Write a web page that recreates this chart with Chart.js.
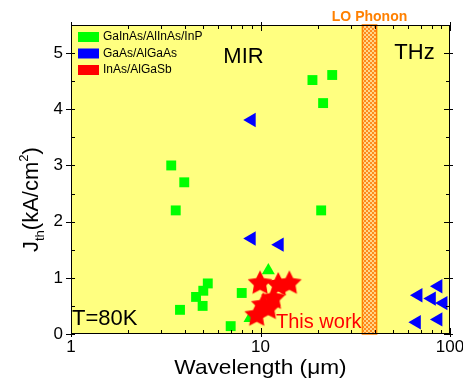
<!DOCTYPE html>
<html>
<head>
<meta charset="utf-8">
<script src="https://cdn.jsdelivr.net/npm/chart.js@4.4.1/dist/chart.umd.min.js"></script>
<style>
    html, body { margin: 0; padding: 0; background: #fff; }
    #wrap { width: 463px; height: 382px; }
</style>
</head>
<body>
<div id="wrap"><canvas id="myChart" width="463" height="382"></canvas></div>
<script>
// GaInAs/AlInAs/InP (squares)
var gainasSqX = [18.8, 23.9, 21.4, 3.38, 3.96, 3.57, 20.9, 5.27, 4.99, 4.57, 4.95, 3.76, 6.96, 7.96];
var gainasSqY = [4.52, 4.61, 4.11, 3.0, 2.7, 2.2, 2.2, 0.9, 0.77, 0.66, 0.5, 0.43, 0.14, 0.73];
// GaInAs/AlInAs/InP (triangles)
var gainasTriX = [11.0, 8.8];
var gainasTriY = [1.13, 0.28];
// GaAs/AlGaAs
var gaasX = [8.97, 8.97, 12.6, 68.0, 80.0, 86.7, 92.2, 66.7, 86.7];
var gaasY = [3.81, 1.70, 1.59, 0.69, 0.63, 0.85, 0.55, 0.21, 0.26];
// InAs/AlGaSb (this work)
var inasX = [9.94, 12.4, 14.2, 11.7, 10.35, 11.0, 9.55];
var inasY = [0.92, 0.89, 0.92, 0.65, 0.53, 0.47, 0.35];

var xTickLabels = [1, 10, 100];
var yTickLabels = [0, 1, 2, 3, 4, 5];
var loPhononBand = [34.5, 41.0];

function pts(xs, ys) {
    return xs.map(function(x, i) { return { x: x, y: ys[i] }; });
}

// filled star used as point style
function makeStar(r) {
    var c = document.createElement("canvas");
    var s = Math.ceil(r * 2 + 2);
    c.width = s; c.height = s;
    var g = c.getContext("2d");
    g.translate(s / 2, s / 2 + 1);
    g.beginPath();
    for (var i = 0; i < 10; i++) {
        var rr = (i % 2 == 0) ? r : r * 0.5;
        var a = -Math.PI / 2 + i * Math.PI / 5;
        g.lineTo(Math.cos(a) * rr, Math.sin(a) * rr);
    }
    g.closePath();
    g.fillStyle = "#ff0000";
    g.fill();
    return c;
}

function makeHatch(ctx) {
    var c = document.createElement("canvas");
    c.width = 4; c.height = 4;
    var g = c.getContext("2d");
    g.fillStyle = "#ffd88a";
    g.fillRect(0, 0, 4, 4);
    g.fillStyle = "#ff8a1c";
    g.fillRect(0, 0, 2, 2);
    g.fillRect(2, 2, 2, 2);
    return ctx.createPattern(c, "repeat");
}

var decor = {
    id: "decor",
    beforeDatasetsDraw: function(chart) {
        var ctx = chart.ctx, a = chart.chartArea, xs = chart.scales.x;
        ctx.save();
        ctx.fillStyle = "#ffff80";
        ctx.fillRect(a.left, a.top, a.right - a.left, a.bottom - a.top);
        // LO phonon band
        var x1 = xs.getPixelForValue(loPhononBand[0]);
        var x2 = xs.getPixelForValue(loPhononBand[1]);
        ctx.fillStyle = makeHatch(ctx);
        ctx.fillRect(x1, a.top, x2 - x1, a.bottom - a.top);
        ctx.strokeStyle = "#ff8000";
        ctx.lineWidth = 1.5;
        ctx.strokeRect(x1, a.top, x2 - x1, a.bottom - a.top);
        ctx.restore();
    },
    afterDraw: function(chart) {
        var ctx = chart.ctx, a = chart.chartArea, xs = chart.scales.x, ys = chart.scales.y;
        ctx.save();
        ctx.strokeStyle = "#000";
        ctx.lineWidth = 1;
        ctx.strokeRect(a.left + 0.5, a.top + 0.5, a.right - a.left - 1, a.bottom - a.top - 1);

        ctx.beginPath();
        // x ticks, bottom and top
        for (var d = 1; d < 100; d *= 10) {
            for (var k = 1; k <= 10; k++) {
                var v = d * k;
                if (v > 100) break;
                var px = Math.round(xs.getPixelForValue(v)) + 0.5;
                var major = (k == 1 || k == 10);
                var inL = major ? 6 : 4;
                ctx.moveTo(px, a.bottom - inL); ctx.lineTo(px, a.bottom + (major ? 3 : 0));
                ctx.moveTo(px, a.top + inL); ctx.lineTo(px, a.top - (major ? 3 : 0));
            }
        }
        // y ticks, left and right
        for (var y = 0; y <= 5.5; y += 0.5) {
            var py = Math.round(ys.getPixelForValue(y)) + 0.5;
            var maj = (y % 1 == 0);
            ctx.moveTo(a.left - (maj ? 5 : 0), py); ctx.lineTo(a.left + 4, py);
            ctx.moveTo(a.right + (maj ? 3 : 0), py); ctx.lineTo(a.right - (maj ? 6 : 4), py);
        }
        ctx.stroke();

        // legend
        var row = 0;
        ctx.font = "12px 'Liberation Sans', Arial, sans-serif";
        ctx.textBaseline = "middle";
        chart.data.datasets.forEach(function(ds) {
            if (ds.legendHidden) return;
            var cy = a.top + 12 + row * 16.5;
            ctx.fillStyle = ds.legendColor;
            ctx.fillRect(a.left + 7, cy - 5, 21, 10);
            ctx.fillStyle = "#000";
            ctx.fillText(ds.label, a.left + 32, cy);
            row++;
        });

        // annotations
        ctx.textBaseline = "alphabetic";
        ctx.fillStyle = "#000";
        ctx.font = "22px 'Liberation Sans', Arial, sans-serif";
        ctx.textAlign = "center";
        ctx.fillText("MIR", 243.5, 63);
        ctx.fillText("THz", 414.5, 59);
        ctx.textAlign = "left";
        ctx.fillText("T=80K", a.left + 1, 325);
        ctx.fillStyle = "#ff0000";
        ctx.font = "20px 'Liberation Sans', Arial, sans-serif";
        ctx.fillText("This work", 276, 327.5);
        ctx.fillStyle = "#ff8000";
        ctx.font = "bold 14px 'Liberation Sans', Arial, sans-serif";
        ctx.textAlign = "center";
        ctx.fillText("LO Phonon", (xs.getPixelForValue(loPhononBand[0]) + xs.getPixelForValue(loPhononBand[1])) / 2, 20.5);

        // x title
        ctx.fillStyle = "#000";
        ctx.save();
        ctx.translate((a.left + a.right) / 2, 374);
        ctx.scale(1.08, 1);
        ctx.font = "21px 'Liberation Sans', Arial, sans-serif";
        ctx.fillText("Wavelength (\u03bcm)", 0, 0);
        ctx.restore();

        // y title J_th(kA/cm^2)
        ctx.save();
        ctx.translate(38, 252);
        ctx.rotate(-Math.PI / 2);
        ctx.textAlign = "left";
        var big = "22px 'Liberation Sans', Arial, sans-serif";
        var small = "13px 'Liberation Sans', Arial, sans-serif";
        var cx = 0;
        ctx.font = big; ctx.fillText("J", cx, 0); cx += ctx.measureText("J").width;
        ctx.font = small; ctx.fillText("th", cx, 6); cx += ctx.measureText("th").width;
        ctx.font = big; ctx.fillText("(kA/cm", cx, 0); cx += ctx.measureText("(kA/cm").width;
        ctx.font = small; ctx.fillText("2", cx, -10); cx += ctx.measureText("2").width;
        ctx.font = big; ctx.fillText(")", cx, 0);
        ctx.restore();

        ctx.restore();
    }
};

var ctx = document.getElementById("myChart");

var data = {
    datasets: [
        {
            label: "GaInAs/AlInAs/InP",
            data: pts(gainasSqX, gainasSqY),
            backgroundColor: "#00ff00",
            legendColor: "#00ff00",
            pointStyle: "rect",
            pointRadius: 7,
            borderWidth: 0,
            order: 3
        },
        {
            label: "GaInAs/AlInAs/InP triangles",
            legendHidden: true,
            data: pts(gainasTriX, gainasTriY),
            backgroundColor: "#00ff00",
            pointStyle: "triangle",
            pointRadius: 7.5,
            borderWidth: 0,
            order: 2
        },
        {
            label: "GaAs/AlGaAs",
            data: pts(gaasX, gaasY),
            backgroundColor: "#0000ff",
            legendColor: "#0000ff",
            pointStyle: "triangle",
            rotation: -90,
            pointRadius: 8.3,
            borderWidth: 0,
            order: 1
        },
        {
            label: "InAs/AlGaSb",
            data: pts(inasX, inasY),
            backgroundColor: "#ff0000",
            legendColor: "#ff0000",
            pointStyle: makeStar(13),
            pointRadius: 13,
            borderWidth: 0,
            order: 0
        }
    ]
};

var tickFont = { family: "'Liberation Sans', Arial, sans-serif", size: 17 };

var options = {
    responsive: false,
    animation: false,
    events: [],
    layout: { padding: { left: 0, top: 25, right: 13, bottom: 0 } },
    plugins: { legend: { display: false }, tooltip: { enabled: false } },
    scales: {
        x: {
            type: "logarithmic",
            min: 1,
            max: 100,
            grid: { display: false, drawTicks: false },
            border: { display: false },
            afterBuildTicks: function(s) { s.ticks = xTickLabels.map(function(v) { return { value: v }; }); },
            afterFit: function(s) { s.height = 48; s.paddingLeft = 0; s.paddingRight = 0; },
            ticks: {
                color: "#000",
                font: tickFont,
                padding: 3,
                maxRotation: 0,
                autoSkip: false,
                callback: function(v) { return String(v); }
            }
        },
        y: {
            min: 0,
            max: 5.5,
            grid: { display: false, drawTicks: false },
            border: { display: false },
            afterBuildTicks: function(s) { s.ticks = yTickLabels.map(function(v) { return { value: v }; }); },
            afterFit: function(s) { s.width = 71; s.paddingTop = 0; s.paddingBottom = 0; },
            ticks: {
                color: "#000",
                font: tickFont,
                padding: 8,
                autoSkip: false,
                callback: function(v) { return String(v); }
            }
        }
    }
};

var chart = new Chart(ctx, {
    type: "scatter",
    data: data,
    options: options,
    plugins: [decor]
});
</script>
</body>
</html>
